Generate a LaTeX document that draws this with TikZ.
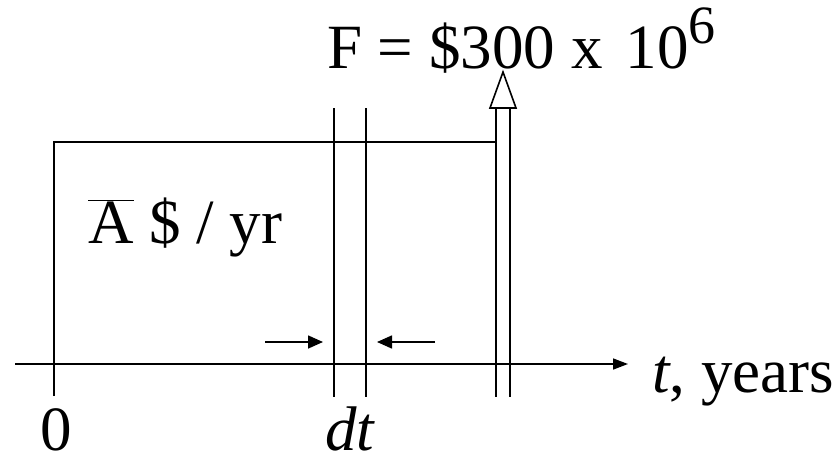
\documentclass[tikz,border=0pt]{standalone}
\usepackage{fontspec}
\setmainfont{Liberation Serif}
\usetikzlibrary{arrows.meta, positioning}
\tikzset{
  plainline/.style={line width=1.6pt, color=black},
  axisarrow/.style={plainline, -{Triangle[length=15pt, width=11pt]}},
  dtarrow/.style={plainline, -{Triangle[length=15pt, width=13pt]}},
  headbox/.style={plainline, fill=white, line join=miter},
  bigtext/.style={inner sep=0pt, anchor=base west, font=\fontsize{63}{72}\selectfont}
}

\begin{document}
\begin{tikzpicture}[x=1pt, y=-1pt]
  \useasboundingbox (0,0) rectangle (837,455);

  % time axis and the uniform flow
  \coordinate (axisstart) at (15,364);
  \coordinate (axisend)   at (628,364);
  \coordinate (zerotop)   at (54,142);
  \coordinate (zerobot)   at (54,396);
  \coordinate (flowend)   at (496,142);
  \draw[axisarrow] (axisstart) -- (axisend);
  \draw[plainline] (zerobot) -- (zerotop) -- (flowend);

  % the strip dt
  \coordinate (dtltop) at (334,108);
  \coordinate (dtlbot) at (334,397);
  \coordinate (dtrtop) at (366,108);
  \coordinate (dtrbot) at (366,397);
  \draw[plainline] (dtltop) -- (dtlbot);
  \draw[plainline] (dtrtop) -- (dtrbot);
  \coordinate (inlfrom) at (265,342);
  \coordinate (inlto)   at (323,342);
  \coordinate (inrfrom) at (435,342);
  \coordinate (inrto)   at (377,342);
  \draw[dtarrow] (inlfrom) -- (inlto);
  \draw[dtarrow] (inrfrom) -- (inrto);

  % future sum F
  \coordinate (shaftltop) at (496,108);
  \coordinate (shaftlbot) at (496,397);
  \coordinate (shaftrtop) at (510,108);
  \coordinate (shaftrbot) at (510,397);
  \coordinate (headtip)   at (503,72);
  \coordinate (headleft)  at (490,108);
  \coordinate (headright) at (516,108);
  \draw[plainline] (shaftltop) -- (shaftlbot);
  \draw[plainline] (shaftrtop) -- (shaftrbot);
  \draw[headbox] (headtip) -- (headleft) -- (headright) -- cycle;

  % labels
  \node[bigtext] (ftext) at (327,68)
    {F = \$300 x\hspace{0.12em} 10\raisebox{25pt}{\fontsize{54}{60}\selectfont 6}};
  \node[bigtext] (abar) at (88,243) {$\overline{\mbox{A}}$ \$ / yr};
  \node[bigtext, text depth=0pt] (zero) at (40,450) {0};
  \node[bigtext, text depth=0pt] (dt) at (325,450) {\textit{dt}};
  \node[bigtext] (tyears) at (652,392) {\textit{t}, years};
\end{tikzpicture}
\end{document}
